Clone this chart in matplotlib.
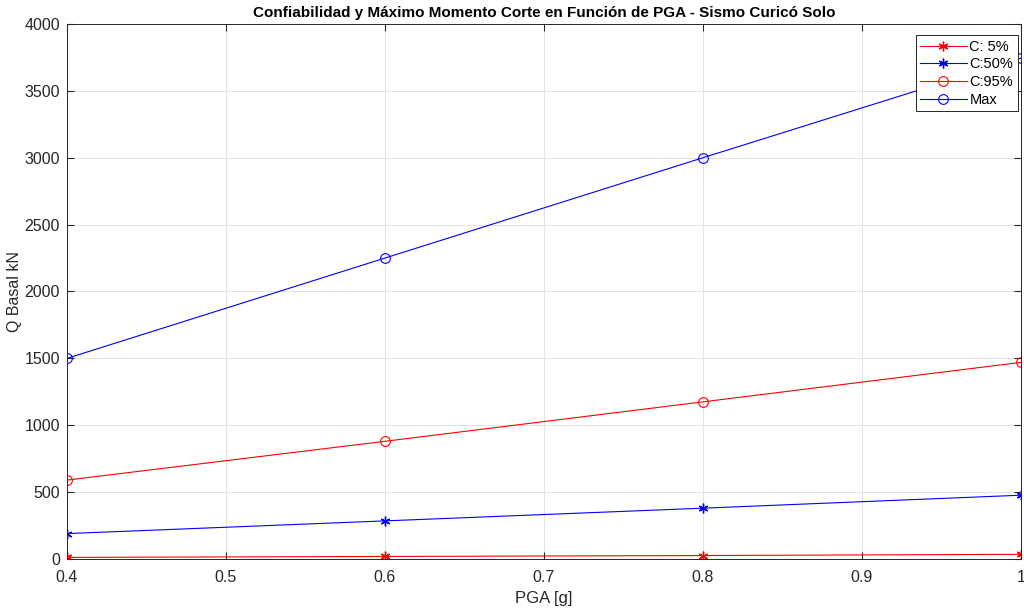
import matplotlib
matplotlib.use("Agg")
import matplotlib.pyplot as plt
import numpy as np

pga = [0.4, 0.6, 0.8, 1.0]
c05 = [12, 19, 26, 35]
c50 = [190, 285, 380, 477]
c95 = [590, 880, 1175, 1470]
qmax = [1500, 2250, 3000, 3745]
xticks = [0.4, 0.5, 0.6, 0.7, 0.8, 0.9, 1.0]
xticklabels = ["0.4", "0.5", "0.6", "0.7", "0.8", "0.9", "1"]
yticks = list(range(0, 4001, 500))

plt.rcParams['font.family'] = ['Liberation Sans', 'DejaVu Sans']

fig = plt.figure(figsize=(10.24, 6.10), dpi=100)
ax = fig.add_axes([0.0654, 0.0836, 0.9316, 0.8771])

lw = 0.8
ast = (6, 2, 0)
ax.plot(pga, c05, color='red', marker=ast, markersize=7, mew=1.0, lw=lw, label='C: 5%')
ax.plot(pga, c50, color='blue', marker=ast, markersize=7, mew=1.0, lw=lw, label='C:50%')
ax.plot(pga, c95, color='red', marker='o', markersize=7, mew=0.8, markerfacecolor='none', lw=lw, label='C:95%')
ax.plot(pga, qmax, color='blue', marker='o', markersize=7, mew=0.8, markerfacecolor='none', lw=lw, label='Max')

ax.set_xlim(0.4, 1.0)
ax.set_ylim(0, 4000)
ax.set_xticks(xticks)
ax.set_xticklabels(xticklabels)
ax.set_yticks(yticks)
ax.grid(True, color='#e3e3e3', lw=0.7)
ax.set_axisbelow(True)
ax.tick_params(direction='in', length=5, labelsize=11.5, colors='#262626', top=True, right=True,
               labeltop=False, labelright=False)
ax.tick_params(axis='x', pad=8)
ax.tick_params(axis='y', pad=5)
for s in ax.spines.values():
    s.set_color('#262626')
    s.set_linewidth(0.7)

ax.set_xlabel('PGA [g]', fontsize=12, color='#262626', labelpad=4)
ax.set_ylabel('Q Basal kN', fontsize=11.5, color='#262626', labelpad=2)
ax.set_title('Confiabilidad y Máximo Momento Corte en Función de PGA - Sismo Curicó Solo',
             fontsize=11, fontweight='bold', pad=5)

leg = ax.legend(loc='upper right', bbox_to_anchor=(0.9965, 0.9785), fontsize=10.5, fancybox=False,
                framealpha=1, edgecolor='#262626', handlelength=3.2, borderpad=0.3,
                labelspacing=0.25, handletextpad=0.2, borderaxespad=0.0)
leg.get_frame().set_linewidth(0.7)

fig.savefig('out.png', dpi=100)
